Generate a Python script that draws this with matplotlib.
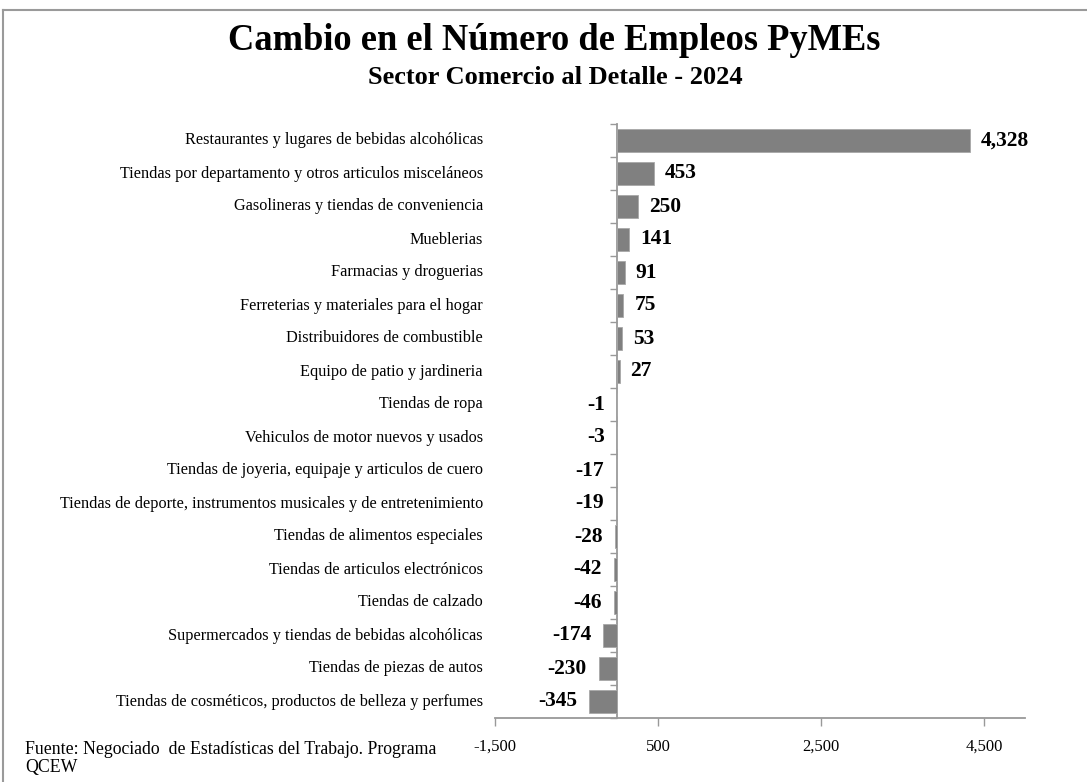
import matplotlib
matplotlib.use("Agg")
import matplotlib.pyplot as plt
from matplotlib.lines import Line2D
import matplotlib.transforms as mtransforms

categories = [
    "Restaurantes y lugares de bebidas alcohólicas",
    "Tiendas por departamento y otros articulos misceláneos",
    "Gasolineras y tiendas de conveniencia",
    "Mueblerias",
    "Farmacias y droguerias",
    "Ferreterias y materiales para el hogar",
    "Distribuidores de combustible",
    "Equipo de patio y jardineria",
    "Tiendas de ropa",
    "Vehiculos de motor nuevos y usados",
    "Tiendas de joyeria, equipaje y articulos de cuero",
    "Tiendas de deporte, instrumentos musicales y de entretenimiento",
    "Tiendas de alimentos especiales",
    "Tiendas de articulos electrónicos",
    "Tiendas de calzado",
    "Supermercados y tiendas de bebidas alcohólicas",
    "Tiendas de piezas de autos",
    "Tiendas de cosméticos, productos de belleza y perfumes",
]
values = [4328, 453, 250, 141, 91, 75, 53, 27, -1, -3, -17, -19, -28, -42, -46, -174, -230, -345]
xticks = [-1500, 500, 2500, 4500]
xtick_labels = ["-1,500", "500", "2,500", "4,500"]

title = "Cambio en el Número de Empleos PyMEs"
subtitle = "Sector Comercio al Detalle - 2024"
source = "Fuente: Negociado  de Estadísticas del Trabajo. Programa\nQCEW"

serif = ["Liberation Serif", "DejaVu Serif"]
plt.rcParams["font.family"] = serif

W, H = 1087, 782
fig = plt.figure(figsize=(W / 100, H / 100), dpi=100)
ax = fig.add_axes([495 / W, 1 - 718 / H, (1025 - 495) / W, (718 - 124) / H])

n = len(categories)
ypos = list(range(n))
ax.barh(ypos, values, height=0.68, color="#808080", edgecolor="#a8a8a8", linewidth=0.6, zorder=3)
ax.set_ylim(n - 0.5, -0.5)
ax.set_xlim(-1500, 5000)

for s in ["top", "right"]:
    ax.spines[s].set_visible(False)
ax.spines["left"].set_position(("data", 0))
for s in ["left", "bottom"]:
    ax.spines[s].set_color("#999999")
    ax.spines[s].set_linewidth(1.3)

ax.set_yticks([i - 0.5 for i in range(n + 1)])
ax.set_yticklabels([])
ax.tick_params(axis="y", direction="out", length=5, color="#999999", width=1.0)

ax.set_xticks(xticks)
ax.set_xticklabels(xtick_labels, fontsize=12)
ax.tick_params(axis="x", direction="out", length=6, color="#999999", width=1.0, pad=9)

# category labels
trans = mtransforms.blended_transform_factory(ax.transAxes, ax.transData)
lab_off = mtransforms.ScaledTranslation(-12 / 100, 0, fig.dpi_scale_trans)
for i, c in enumerate(categories):
    ax.text(0, i, c, transform=trans + lab_off, ha="right", va="center", fontsize=11.7)

# value labels
off = mtransforms.ScaledTranslation(11 / 100, 0, fig.dpi_scale_trans)
offn = mtransforms.ScaledTranslation(-12 / 100, 0, fig.dpi_scale_trans)
for i, v in enumerate(values):
    lab = f"{v:,}"
    if v >= 0:
        ax.text(v, i, lab, transform=ax.transData + off, ha="left", va="center",
                fontsize=15.5, fontweight="bold")
    else:
        ax.text(v, i, lab, transform=ax.transData + offn, ha="right", va="center",
                fontsize=15.5, fontweight="bold")

# titles
fig.text(554 / W, 1 - 41 / H, title, ha="center", va="center", fontsize=26.3, fontweight="bold")
fig.text(555 / W, 1 - 77 / H, subtitle, ha="center", va="center", fontsize=19, fontweight="bold")
fig.text(25 / W, 1 - 741 / H, source, ha="left", va="top", fontsize=12.8, linespacing=1.05)

# frame
fig.add_artist(Line2D([3 / W, 1.0], [1 - 10 / H, 1 - 10 / H], transform=fig.transFigure,
                      color="#9a9a9a", linewidth=1.5))
fig.add_artist(Line2D([3 / W, 3 / W], [0, 1 - 10 / H], transform=fig.transFigure,
                      color="#9a9a9a", linewidth=1.5))

fig.savefig("out.png", dpi=100)
